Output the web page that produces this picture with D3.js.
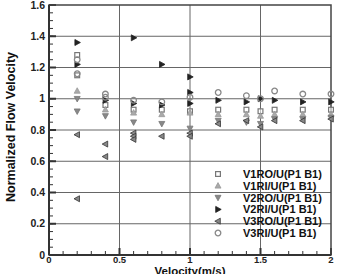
<!DOCTYPE html>
<html><head><meta charset="utf-8">
<script src="https://cdn.jsdelivr.net/npm/d3@7"></script>
<style>body{margin:0;background:#fff}text{font-family:"Liberation Sans",Arial,sans-serif;font-weight:bold}</style>
</head><body><svg id="c" width="337" height="274"></svg>
<script>
const xTicks = [0, 0.5, 1, 1.5, 2];
const xTickLabels = ["0", "0.5", "1", "1.5", "2"];
const yTicks = [0, 0.2, 0.4, 0.6, 0.8, 1, 1.2, 1.4, 1.6];
const yTickLabels = ["0", "0.2", "0.4", "0.6", "0.8", "1", "1.2", "1.4", "1.6"];
const seriesNames = ["V1RO/U(P1 B1)", "V1RI/U(P1 B1)", "V2RO/U(P1 B1)", "V2RI/U(P1 B1)", "V3RO/U(P1 B1)", "V3RI/U(P1 B1)"];
// [velocity, normalized flow velocity]
const v1ro = [[0.2,1.28],[0.2,1.15],[0.4,0.96],[0.6,0.93],[0.8,0.93],[1.0,0.92],[1.2,0.93],[1.4,0.93],[1.5,0.92],[1.6,0.93],[1.8,0.93],[2.0,0.93]];
const v1ri = [[0.2,1.05],[0.4,0.93],[0.6,0.91],[0.8,0.90],[1.0,0.91],[1.2,0.90],[1.4,0.90],[1.5,0.89],[1.6,0.90],[1.8,0.90],[2.0,0.90]];
const v2ro = [[0.2,1.00],[0.2,0.92],[0.4,0.89],[0.6,0.85],[0.8,0.84],[1.0,0.81],[1.2,0.86],[1.4,0.85],[1.5,0.84],[1.6,0.87],[1.8,0.87],[2.0,0.88]];
const v2ri = [[0.2,1.36],[0.2,1.22],[0.4,0.99],[0.6,1.39],[0.6,0.97],[0.8,1.22],[0.8,0.96],[1.0,1.14],[1.0,1.04],[1.0,0.97],[1.2,0.99],[1.4,0.98],[1.5,1.00],[1.6,0.99],[1.8,0.98],[2.0,0.98]];
const v3ro = [[0.2,0.77],[0.2,0.36],[0.4,0.71],[0.4,0.63],[0.6,0.78],[0.6,0.76],[0.6,0.74],[0.8,0.76],[1.0,0.78],[1.0,0.76],[1.2,0.84],[1.4,0.86],[1.5,0.82],[1.6,0.86],[1.8,0.86],[2.0,0.87]];
const v3ri = [[0.2,1.25],[0.2,1.16],[0.4,1.03],[0.4,1.01],[0.6,0.99],[0.8,0.98],[1.0,1.01],[1.2,1.04],[1.4,1.02],[1.5,1.00],[1.6,1.05],[1.8,1.03],[2.0,1.03]];

const seriesData = [v1ro, v1ri, v2ro, v2ri, v3ro, v3ri];
const styles = [
  {shape:"square", fill:"none", stroke:"#777", rot:0},
  {shape:"tri", fill:"#aaa", stroke:"#999", rot:0},
  {shape:"tri", fill:"#888", stroke:"#777", rot:180},
  {shape:"tri", fill:"#222", stroke:"#222", rot:90},
  {shape:"tri", fill:"#888", stroke:"#333", rot:-90},
  {shape:"circle", fill:"none", stroke:"#888", rot:0}
];

const svg = d3.select("#c");
const L = 49, R = 331, T = 5, B = 255;
const x = d3.scaleLinear().domain([0, 2]).range([L, R]);
const y = d3.scaleLinear().domain([0, 1.6]).range([B, T]);

// grid
const g = svg.append("g");
g.selectAll(".gx").data(xTicks.slice(1, -1)).enter().append("line")
  .attr("x1", d => x(d)).attr("x2", d => x(d)).attr("y1", T).attr("y2", B)
  .attr("stroke", "#666").attr("stroke-width", 1);
g.selectAll(".gy").data(yTicks.slice(1, -1)).enter().append("line")
  .attr("y1", d => y(d)).attr("y2", d => y(d)).attr("x1", L).attr("x2", R)
  .attr("stroke", "#666").attr("stroke-width", 1);

// minor ticks
const xMinor = d3.range(0, 2.0001, 0.1);
g.selectAll(".mx").data(xMinor).enter().append("line")
  .attr("x1", d => x(d)).attr("x2", d => x(d)).attr("y1", B).attr("y2", B - 4)
  .attr("stroke", "#333").attr("stroke-width", 1);
const yMinor = d3.range(0, 1.6001, 0.05);
g.selectAll(".my").data(yMinor).enter().append("line")
  .attr("y1", d => y(d)).attr("y2", d => y(d)).attr("x1", L).attr("x2", L + 4)
  .attr("stroke", "#333").attr("stroke-width", 1);
// major tick stubs
g.selectAll(".My").data(yTicks).enter().append("line")
  .attr("y1", d => y(d)).attr("y2", d => y(d)).attr("x1", L).attr("x2", L + 7)
  .attr("stroke", "#333").attr("stroke-width", 2);
g.selectAll(".Mx").data(xTicks).enter().append("line")
  .attr("x1", d => x(d)).attr("x2", d => x(d)).attr("y1", B).attr("y2", B - 7)
  .attr("stroke", "#333").attr("stroke-width", 2);

// frame
svg.append("rect").attr("x", L).attr("y", T).attr("width", R - L).attr("height", B - T)
  .attr("fill", "none").attr("stroke", "#444").attr("stroke-width", 1.5);
svg.append("line").attr("x1", L).attr("x2", L).attr("y1", T).attr("y2", B).attr("stroke", "#333").attr("stroke-width", 2);
svg.append("line").attr("x1", L).attr("x2", R).attr("y1", B).attr("y2", B).attr("stroke", "#333").attr("stroke-width", 2);

// tick labels
svg.selectAll(".xl").data(xTicks).enter().append("text")
  .attr("x", d => x(d)).attr("y", B + 7.5).attr("text-anchor", "middle")
  .attr("font-size", 9.5).attr("fill", "#222").text((d, i) => xTickLabels[i]);
svg.selectAll(".yl").data(yTicks).enter().append("text")
  .attr("x", L - 4).attr("y", d => y(d) + 3.5).attr("text-anchor", "end")
  .attr("font-size", 10.5).attr("fill", "#222").text((d, i) => yTickLabels[i]);

// axis titles
svg.append("text").attr("x", 190).attr("y", 275).attr("text-anchor", "middle")
  .attr("font-size", 11.5).attr("fill", "#111").text("Velocity(m/s)");
svg.append("text").attr("transform", "translate(15,127) rotate(-90)").attr("text-anchor", "middle")
  .attr("font-size", 12.5).attr("fill", "#111").text("Normalized Flow Velocity");

function marker(sel, st) {
  if (st.shape === "square") {
    sel.append("rect").attr("x", -2.4).attr("y", -2.4).attr("width", 4.8).attr("height", 4.8)
      .attr("fill", "#fff").attr("fill-opacity", 0.6).attr("stroke", st.stroke).attr("stroke-width", 1.2);
  } else if (st.shape === "circle") {
    sel.append("circle").attr("r", 2.8).attr("fill", "none").attr("stroke", st.stroke).attr("stroke-width", 1.3);
  } else {
    sel.append("path").attr("d", "M0,-3.2L3,2.3L-3,2.3Z").attr("transform", "rotate(" + st.rot + ")")
      .attr("fill", st.fill).attr("stroke", st.stroke).attr("stroke-width", 0.8);
  }
}

seriesData.forEach((data, si) => {
  const st = styles[si];
  svg.append("g").selectAll("g").data(data).enter().append("g")
    .attr("transform", d => "translate(" + x(d[0]) + "," + y(d[1]) + ")")
    .each(function () { marker(d3.select(this), st); });
});

// legend
const lg = svg.append("g");
seriesNames.forEach((name, i) => {
  const yy = 174 + i * 11.8;
  const m = lg.append("g").attr("transform", "translate(218," + yy + ")");
  marker(m, styles[i]);
  lg.append("text").attr("x", 243).attr("y", yy + 4).attr("font-size", 11).attr("fill", "#111").text(name);
});
</script></body></html>
